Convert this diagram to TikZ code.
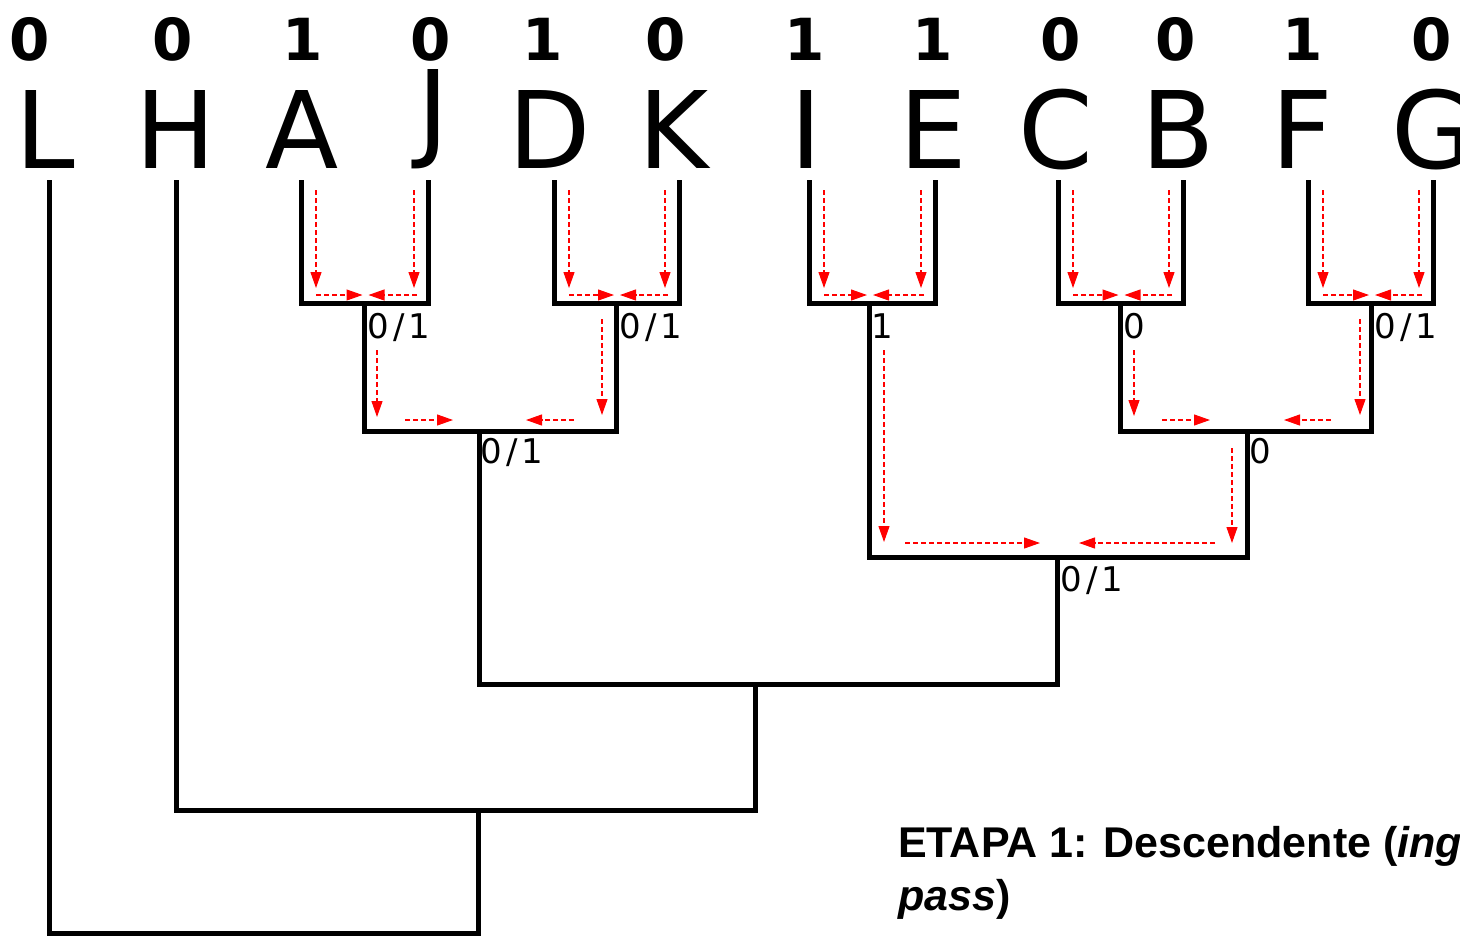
\documentclass[tikz,border=0pt]{standalone}
\usepackage{fontspec}
\setmainfont{DejaVu Sans}
\newfontfamily\capf{Liberation Sans}
\usetikzlibrary{arrows.meta}
\newcommand\mch[1]{\makebox[20.5pt]{#1}}
\begin{document}
\begin{tikzpicture}[x=1pt,y=-1pt,
  tree/.style={line width=5pt, line join=miter},
  redarr/.style={red, line width=1.1pt, dash pattern=on 5pt off 3pt,
     -{Triangle[length=16pt,width=11pt]}},
  letter/.style={inner sep=0pt, anchor=base, font=\fontsize{107}{107}\selectfont},
  digit/.style={inner sep=0pt, anchor=base, font=\fontsize{58}{58}\selectfont\bfseries},
  lab/.style={inner sep=0pt, anchor=base west, font=\fontsize{34}{34}\selectfont},
  capt/.style={inner sep=0pt, anchor=base west, font=\capf\fontsize{43}{53}\selectfont\bfseries}]
\useasboundingbox (0,0) rectangle (1460,935);
\clip (0,0) rectangle (1460,935);

% digits
\node[digit] (d1) at (30,60) {0};
\node[digit] (d2) at (173,60) {0};
\node[digit] (d3) at (303,60) {1};
\node[digit] (d4) at (431,60) {0};
\node[digit] (d5) at (543,60) {1};
\node[digit] (d6) at (666,60) {0};
\node[digit] (d7) at (805,60) {1};
\node[digit] (d8) at (933,60) {1};
\node[digit] (d9) at (1061,60) {0};
\node[digit] (d10) at (1176,60) {0};
\node[digit] (d11) at (1303,60) {1};
\node[digit] (d12) at (1432,60) {0};

% letters
\node[letter] (nL) at (45,168) {L};
\node[letter] (nH) at (176,168) {H};
\node[letter] (nA) at (302,168) {A};
\node[letter] (nJ) at (433,147) {J};
\node[letter] (nD) at (550,168) {D};
\node[letter] (nK) at (674,168) {K};
\node[letter] (nI) at (806,168) {I};
\node[letter] (nE) at (933,168) {E};
\node[letter] (nC) at (1056,168) {C};
\node[letter] (nB) at (1178,168) {B};
\node[letter] (nF) at (1302,168) {F};
\node[letter] (nG) at (1433,168) {G};

% leaf tops
\coordinate (L) at (49,180);
\coordinate (H) at (176,180);
\coordinate (A) at (301,180);
\coordinate (J) at (428,180);
\coordinate (D) at (554,180);
\coordinate (K) at (679,180);
\coordinate (I) at (809,180);
\coordinate (E) at (935,180);
\coordinate (C) at (1058,180);
\coordinate (B) at (1183,180);
\coordinate (F) at (1308,180);
\coordinate (G) at (1433,180);
% internal joins (x of stem, y of bar)
\coordinate (aj) at (364.5,303);
\coordinate (dk) at (616,303);
\coordinate (ie) at (869,303);
\coordinate (cb) at (1120.5,303);
\coordinate (fg) at (1371,303);
\coordinate (ajdk) at (479,431.5);
\coordinate (cbfg) at (1247,431.5);
\coordinate (iecbfg) at (1057,557.5);
\coordinate (mid) at (755,684);
\coordinate (hmid) at (478,810);
\coordinate (root) at (478,933);

% tree
\draw[tree] (A) |- (aj) -| (J);
\draw[tree] (D) |- (dk) -| (K);
\draw[tree] (I) |- (ie) -| (E);
\draw[tree] (C) |- (cb) -| (B);
\draw[tree] (F) |- (fg) -| (G);
\draw[tree] (aj) |- (ajdk) -| (dk);
\draw[tree] (cb) |- (cbfg) -| (fg);
\draw[tree] (ie) |- (iecbfg) -| (cbfg);
\draw[tree] (ajdk) |- (mid) -| (iecbfg);
\draw[tree] (H) |- (hmid) -| (mid);
\draw[tree] (L) |- (root) -- (hmid);

% labels
\node[lab] (l1) at (368,338) {\mch{0}\mch{/}\mch{1}};
\node[lab] (l2) at (620,338) {\mch{0}\mch{/}\mch{1}};
\node[lab] (l3) at (872,338) {\mch{1}};
\node[lab] (l4) at (1123.5,338) {\mch{0}};
\node[lab] (l5) at (1375,338) {\mch{0}\mch{/}\mch{1}};
\node[lab] (l6) at (481,463) {\mch{0}\mch{/}\mch{1}};
\node[lab] (l7) at (1250,463) {\mch{0}};
\node[lab] (l8) at (1061,591) {\mch{0}\mch{/}\mch{1}};

% red arrows, leaf pairs
\foreach \lx/\jx/\rx in {301/364.5/428, 554/616/679, 809/869/935, 1058/1120.5/1183, 1308/1371/1433}{
  \draw[redarr] ({\lx+15},190) -- ({\lx+15},288);
  \draw[redarr] ({\rx-14},190) -- ({\rx-14},288);
  \draw[redarr] ({\lx+15},295) -- ({\jx-2},295);
  \draw[redarr] ({\rx-11},295) -- ({\jx+4},295);
}
% level 2
\draw[redarr] (377,350) -- (377,417);
\draw[redarr] (602,319) -- (602,415);
\draw[redarr] (405,420) -- (453,420);
\draw[redarr] (574,420) -- (526,420);
\draw[redarr] (1134,350) -- (1134,416);
\draw[redarr] (1360,319) -- (1360,415);
\draw[redarr] (1162,420) -- (1210,420);
\draw[redarr] (1331,420) -- (1284,420);
% level 3
\draw[redarr] (884,350) -- (884,542);
\draw[redarr] (1232,448) -- (1232,543);
\draw[redarr] (905,543) -- (1040,543);
\draw[redarr] (1215,543) -- (1079,543);

% caption
\node[capt] (cap1) at (898,857) {ETAPA 1: Descendente (\textit{ing}};
\node[capt] (cap2) at (898,910) {\textit{pass})};
\end{tikzpicture}
\end{document}
